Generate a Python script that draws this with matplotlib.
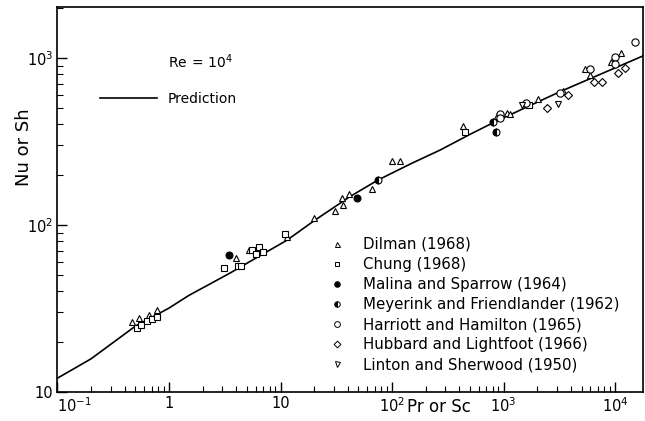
import matplotlib
matplotlib.use("Agg")
import matplotlib.pyplot as plt
from matplotlib.lines import Line2D
from matplotlib.ticker import LogLocator, FixedLocator, FixedFormatter, NullFormatter

plt.rcParams["font.family"] = ["DejaVu Sans"]
plt.rcParams["mathtext.default"] = "regular"

# Predicted correlation curve, Re = 1e4
pred_x = [0.1, 0.2, 0.5, 1, 1.5, 3.5, 6, 11.4, 20, 42, 75, 150, 270, 500, 810,
          1500, 3200, 7000, 18600]
pred_y = [12.1, 15.8, 24.8, 31.8, 37.8, 51.4, 63.3, 81, 106, 148, 186, 234, 281,
          349, 410, 497, 628, 787, 1042]

# Experimental data sets (Pr or Sc, Nu or Sh)
dilman_x = [0.463, 0.542, 0.658, 0.785, 4.02, 5.25, 11.5, 20.1, 30.8, 35.8, 36.1,
            40.9, 66.6, 100.6, 118, 436, 875, 1069, 1143, 2040, 3400, 5380, 5970,
            9200, 11250]
dilman_y = [26.1, 27.6, 28.8, 30.8, 63, 70.8, 85, 110, 121, 146, 132,
            153, 164, 242, 242, 392, 450, 470, 463, 568, 637, 855, 791,
            946, 1076]

chung_x = [0.516, 0.563, 0.632, 0.708, 0.784, 3.1, 4.13, 4.42, 5.6, 6.42, 6.03,
           7.01, 10.9, 451, 1703]
chung_y = [24.3, 25.2, 26.7, 27.2, 28.0, 55.5, 57, 57, 70.5, 74.1, 67,
           69.2, 88, 362, 524]

malina_x = [3.47, 48.2]
malina_y = [66, 144.6]

meyerink_x = [75.4, 800, 857]
meyerink_y = [186, 412, 362]

harriott_x = [930, 930, 1592, 3210, 5970, 10000, 10000, 15100]
harriott_y = [463, 440, 535, 615, 855, 1014, 917, 1253]

hubbard_x = [2440, 3810, 6530, 7600, 10570, 12300]
hubbard_y = [500, 603, 721, 721, 817, 867]

linton_x = [1456, 3060]
linton_y = [524, 531]

series_labels = [
    "Dilman (1968)",
    "Chung (1968)",
    "Malina and Sparrow (1964)",
    "Meyerink and Friendlander (1962)",
    "Harriott and Hamilton (1965)",
    "Hubbard and Lightfoot (1966)",
    "Linton and Sherwood (1950)",
]

x_tick_values = [0.1, 1, 10, 100, 1000, 10000]
x_tick_labels = ["$10^{-1}$", "1", "10", "$10^2$", "$10^3$", "$10^4$"]
y_tick_values = [10, 100, 1000]
y_tick_labels = ["10", "$10^2$", "$10^3$"]

fig = plt.figure(figsize=(6.45, 4.21), dpi=100)
ax = fig.add_axes([0.0891, 0.0689, 0.9078, 0.9145])
ax.set_xscale("log")
ax.set_yscale("log")
ax.set_xlim(0.1, 17800)
ax.set_ylim(10, 2020)

ax.plot(pred_x, pred_y, color="black", lw=1.2, clip_on=True, zorder=2)

common = dict(linestyle="none", color="black", markeredgewidth=0.8, zorder=3)
styles = [
    dict(marker="^", markersize=4.5, markerfacecolor="white"),
    dict(marker="s", markersize=4.3, markerfacecolor="white"),
    dict(marker="o", markersize=5, markerfacecolor="black"),
    dict(marker="o", markersize=5, fillstyle="left", markerfacecolor="black",
         markerfacecoloralt="white"),
    dict(marker="o", markersize=5.2, markerfacecolor="white"),
    dict(marker="D", markersize=4.3, markerfacecolor="white"),
    dict(marker="v", markersize=4.5, markerfacecolor="white"),
]
datasets = [(dilman_x, dilman_y), (chung_x, chung_y), (malina_x, malina_y),
            (meyerink_x, meyerink_y), (harriott_x, harriott_y),
            (hubbard_x, hubbard_y), (linton_x, linton_y)]
for (xs, ys), st in zip(datasets, styles):
    ax.plot(xs, ys, **common, **st)

# Ticks
ax.xaxis.set_major_locator(FixedLocator(x_tick_values))
ax.xaxis.set_major_formatter(FixedFormatter(x_tick_labels))
ax.yaxis.set_major_locator(FixedLocator(y_tick_values))
ax.yaxis.set_major_formatter(FixedFormatter(y_tick_labels))
ax.xaxis.set_minor_locator(LogLocator(base=10, subs=range(2, 10), numticks=20))
ax.yaxis.set_minor_locator(LogLocator(base=10, subs=range(2, 10), numticks=20))
ax.xaxis.set_minor_formatter(NullFormatter())
ax.yaxis.set_minor_formatter(NullFormatter())
ax.tick_params(which="both", direction="in", top=False, right=False,
               labelsize=10.5, colors="black")
ax.tick_params(which="major", length=7, width=1.0, pad=3)
ax.tick_params(which="minor", length=4, width=0.8)
for sp in ax.spines.values():
    sp.set_linewidth(1.2)

# keep the first x label clear of the y-axis "10"
fig.canvas.draw()
ax.get_xticklabels()[0].set_horizontalalignment("left")

ax.set_xlabel("Pr or Sc", fontsize=12)
ax.xaxis.set_label_coords(0.652, -0.016)
ax.set_ylabel("Nu or Sh", fontsize=13)
ax.yaxis.set_label_coords(-0.042, 0.636)

# Legends
handles = [Line2D([], [], linestyle="none", color="black", markeredgewidth=0.7,
                  **{**st, "markersize": st["markersize"] * 0.8}) for st in styles]
leg = ax.legend(handles, series_labels, loc="upper left",
                bbox_to_anchor=(0.465, 0.403), frameon=False, fontsize=10.8,
                handlelength=0.95, handletextpad=1.3, labelspacing=0.34,
                borderpad=0, borderaxespad=0)
ax.add_artist(leg)

pred_handle = Line2D([], [], color="black", lw=1.2)
ax.legend([pred_handle], ["Prediction"], loc="upper left",
          bbox_to_anchor=(0.0726, 0.779), frameon=False, fontsize=10,
          handlelength=4.1, handletextpad=0.79, borderpad=0, borderaxespad=0)

ax.text(0.189, 0.857, r"$\mathregular{Re\,=\,10^4}$", transform=ax.transAxes,
        fontsize=10, ha="left", va="center")

fig.savefig("out.png", dpi=100)
